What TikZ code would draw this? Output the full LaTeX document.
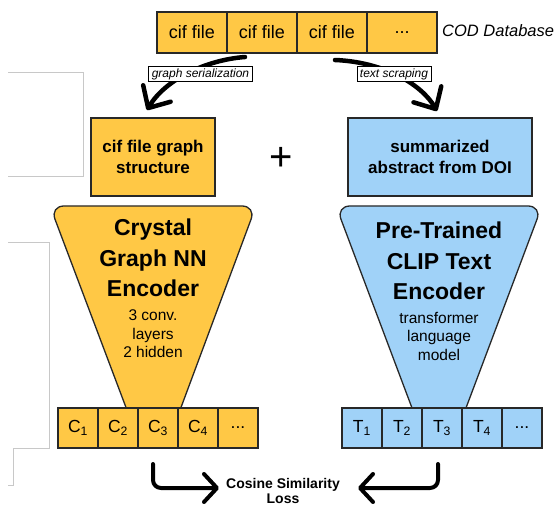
\documentclass[tikz,border=0pt]{standalone}
\usepackage{fontspec}
\setmainfont{Liberation Sans}
\usetikzlibrary{arrows.meta}
\definecolor{ylw}{RGB}{255,200,69}
\definecolor{blu}{RGB}{160,210,248}
\definecolor{edgec}{RGB}{40,40,40}
\definecolor{brk}{RGB}{200,200,200}
\tikzset{
  codcell/.style={draw=edgec, line width=1.2pt, fill=ylw, minimum width=70pt, minimum height=41pt, inner sep=0pt, font=\fontsize{18}{20}\selectfont},
  ccell/.style={draw=edgec, line width=1.2pt, fill=ylw, minimum width=40pt, minimum height=40pt, inner sep=0pt, font=\fontsize{17.5}{20}\selectfont},
  tcell/.style={ccell, fill=blu},
  inbox/.style={draw=edgec, line width=1.2pt, minimum width=124pt, minimum height=78pt, align=center, font=\fontsize{17}{21}\selectfont\bfseries},
  lbl/.style={draw=black, line width=0.7pt, fill=white, inner xsep=3pt, inner ysep=2pt, font=\fontsize{12}{14}\selectfont\itshape},
  funnelpath/.style={draw=edgec, line width=1.3pt, rounded corners=14pt},
  ftitle/.style={align=center, font=\fontsize{23}{30.5}\selectfont\bfseries, inner sep=0pt},
  fsub/.style={align=center, font=\fontsize{15.5}{18.5}\selectfont, inner sep=0pt},
  toparrow/.style={line width=4.5pt, line cap=round, line join=round, -{Straight Barb[length=17pt,width=32pt,round]}},
  botarrow/.style={line width=4pt, line cap=round, line join=round, rounded corners=8pt, -{Straight Barb[length=13pt,width=28pt,round]}},
  graybr/.style={draw=brk, line width=0.8pt}
}
\begin{document}
\begin{tikzpicture}[x=1pt,y=-1pt]
\useasboundingbox[fill=white] (0,0) rectangle (558,508);

% gray brackets
\draw[graybr] (8,72) -- (83,72) -- (83,176) -- (8,176);
\draw[graybr] (8,242) -- (49,242) -- (49,448) -- (13,448) -- (13,485) -- (8,485);

% COD database row
\node[codcell] (cod1) at (192,32.5) {cif file};
\node[codcell] (cod2) at (262,32.5) {cif file};
\node[codcell] (cod3) at (332,32.5) {cif file};
\node[codcell] (cod4) at (402,32.5) {...};
\node[anchor=west, font=\fontsize{16.5}{20}\selectfont\itshape, inner sep=0pt] (cod) at (442,31) {COD Database};

% input boxes
\node[inbox, fill=ylw] (gbox) at (153,157) {cif file graph\\structure};
\node[inbox, fill=blu, minimum width=184pt] (abox) at (440,157) {summarized\\abstract from DOI};
\node[font=\fontsize{40}{40}\selectfont, inner sep=0pt] (plus) at (281,159) {+};

% top arrows
\coordinate (ls) at (245,57);
\coordinate (le) at (147,110);
\coordinate (rs) at (335,60);
\coordinate (re) at (437,111);
\draw[toparrow] (ls) .. controls (205,60) and (165,80) .. (le);
\draw[toparrow] (rs) .. controls (385,62) and (422,85) .. (re);
\node[lbl] (gser) at (200.5,74) {graph serialization};
\node[lbl] (tscr) at (394,74) {text scraping};

% funnels
\path[funnelpath, fill=ylw] (134.5,430) -- (50,206) -- (256,206) -- (172.6,430) -- cycle;
\path[funnelpath, fill=blu] (420.3,430) -- (336,206) -- (542,206) -- (457.7,430) -- cycle;

\node[ftitle] (cgt) at (153,258) {Crystal\\Graph NN\\Encoder};
\node[fsub] (cgs) at (153,334) {3 conv.\\layers\\2 hidden};
\node[ftitle] (ctt) at (439,261) {Pre-Trained\\CLIP Text\\Encoder};
\node[fsub] (cts) at (439,336) {transformer\\language\\model};

% embedding cells
\node[ccell] (c1) at (78,428) {C\textsubscript{1}};
\node[ccell] (c2) at (118,428) {C\textsubscript{2}};
\node[ccell] (c3) at (158,428) {C\textsubscript{3}};
\node[ccell] (c4) at (198,428) {C\textsubscript{4}};
\node[ccell] (c5) at (238,428) {...};
\node[tcell] (t1) at (362,428) {T\textsubscript{1}};
\node[tcell] (t2) at (402,428) {T\textsubscript{2}};
\node[tcell] (t3) at (442,428) {T\textsubscript{3}};
\node[tcell] (t4) at (482,428) {T\textsubscript{4}};
\node[tcell] (t5) at (522,428) {...};

% loss
\node[align=center, font=\fontsize{14}{15}\selectfont\bfseries, inner sep=0pt] (loss) at (283,491) {Cosine Similarity\\Loss};
\coordinate (bls) at (153,464);
\coordinate (blt) at (219,488);
\coordinate (brs) at (438,464);
\coordinate (brt) at (358,488);
\draw[botarrow] (bls) |- (blt);
\draw[botarrow] (brs) |- (brt);
\end{tikzpicture}
\end{document}
